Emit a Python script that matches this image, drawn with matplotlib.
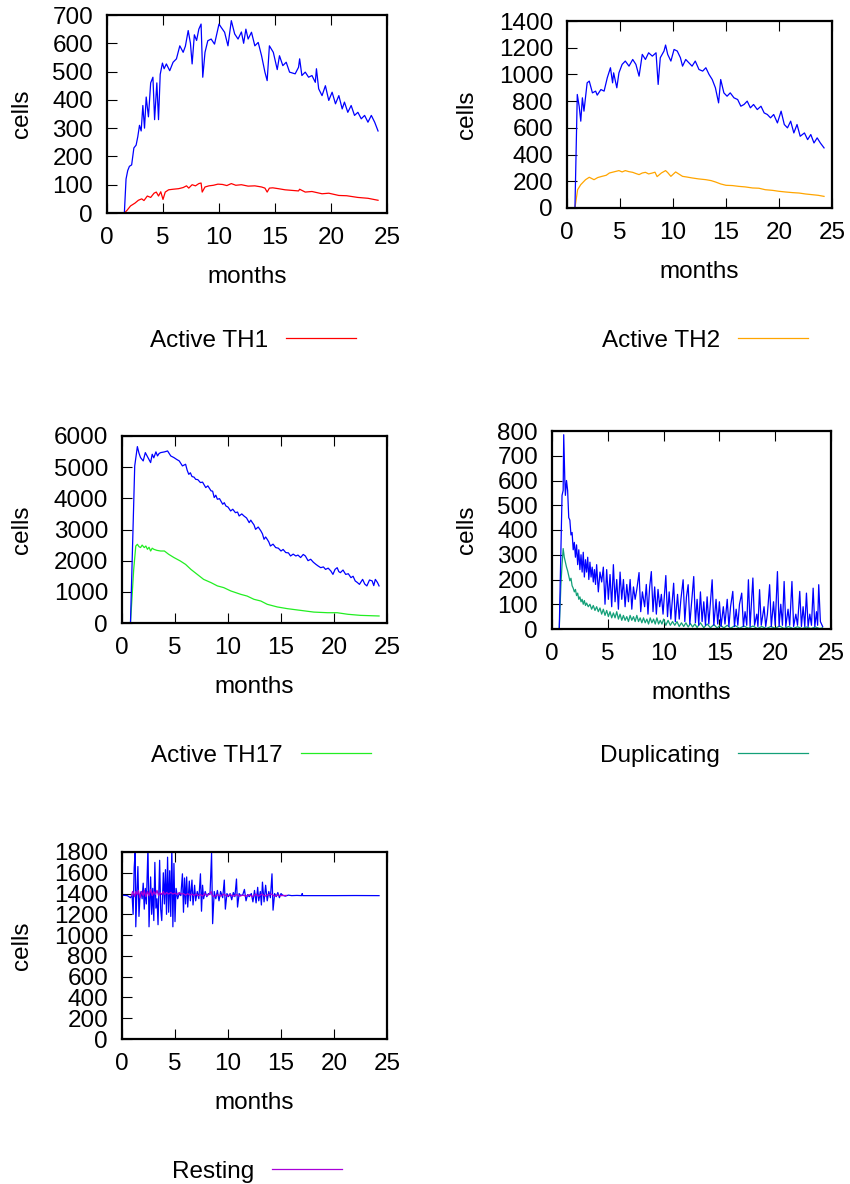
import numpy as np
import matplotlib
matplotlib.use("Agg")
import matplotlib.pyplot as plt
from matplotlib.lines import Line2D

FS = 17.5
plt.rcParams['font.family'] = ['Liberation Sans', 'DejaVu Sans']
plt.rcParams['font.size'] = FS

# (months, cells) samples of each trace

th1_blue = [(0, 0), (1.55, 0), (1.7, 120), (1.85, 150), (2.0, 165), (2.2, 170), (2.4, 230),
            (2.6, 240), (2.75, 270), (2.9, 310), (3.05, 290), (3.2, 380), (3.35, 300),
            (3.5, 410), (3.7, 340), (3.9, 460), (4.1, 480), (4.25, 330), (4.45, 460),
            (4.6, 330), (4.75, 490), (4.95, 530), (5.1, 510), (5.3, 527), (5.6, 503),
            (5.9, 533), (6.2, 545), (6.5, 591), (6.8, 568), (7.0, 590), (7.25, 645),
            (7.45, 600), (7.6, 527), (7.8, 630), (8.0, 610), (8.2, 650), (8.4, 668),
            (8.55, 480), (8.75, 568), (9.0, 609), (9.3, 615), (9.6, 597), (10.0, 668),
            (10.2, 656), (10.5, 639), (10.8, 591), (11.1, 680), (11.4, 633), (11.7, 615),
            (12.0, 640), (12.2, 600), (12.4, 650), (12.6, 615), (12.9, 639), (13.2, 591),
            (13.5, 603), (13.8, 556), (14.1, 498), (14.3, 468), (14.5, 591), (14.85, 568),
            (15.2, 507), (15.4, 556), (15.7, 521), (16.0, 533), (16.3, 498), (16.8, 492),
            (17.1, 515), (17.2, 545), (17.4, 486), (17.7, 498), (18.0, 480), (18.3, 486),
            (18.6, 462), (18.7, 510), (18.9, 439), (19.2, 415), (19.5, 450), (19.8, 398),
            (20.1, 427), (20.4, 386), (20.7, 415), (21.0, 368), (21.2, 392), (21.5, 356),
            (21.8, 380), (22.1, 345), (22.4, 356), (22.7, 333), (23.0, 345), (23.3, 321),
            (23.6, 345), (23.9, 321), (24.2, 290)]

th1_active = [(0, 0), (1.55, 0), (1.8, 10), (2.1, 25), (2.5, 35), (2.8, 45), (3.1, 50), (3.3, 44),
              (3.6, 60), (3.9, 55), (4.2, 70), (4.4, 74), (4.6, 60), (4.8, 75), (5.0, 48),
              (5.2, 74), (5.5, 82), (5.9, 84), (6.4, 86), (6.8, 90), (7.1, 96), (7.3, 88),
              (7.6, 100), (7.9, 96), (8.2, 104), (8.4, 106), (8.5, 74), (8.75, 92), (9.1, 96),
              (9.5, 98), (9.9, 102), (10.3, 101), (10.7, 97), (11.1, 104), (11.5, 98),
              (12.0, 100), (12.6, 95), (13.2, 96), (13.8, 92), (14.1, 88), (14.3, 74),
              (14.5, 88), (14.8, 89), (15.3, 86), (15.9, 82), (16.5, 80), (17.1, 78),
              (17.2, 84), (17.7, 74), (18.3, 76), (19.2, 68), (19.8, 70), (20.7, 62),
              (21.4, 61), (22.4, 55), (23.3, 52), (24.2, 45)]

th2_blue = [(0, 0), (0.75, 0), (0.97, 850), (1.15, 760), (1.3, 650), (1.45, 825), (1.6, 725),
            (1.9, 937), (2.1, 950), (2.4, 862), (2.7, 875), (2.85, 845), (3.2, 887), (3.5, 875),
            (3.8, 975), (4.1, 1050), (4.3, 937), (4.4, 1012), (4.7, 900), (4.9, 1012),
            (5.2, 1075), (5.5, 1100), (5.85, 1062), (6.2, 1112), (6.5, 1075), (6.8, 987),
            (7.1, 1150), (7.4, 1112), (7.7, 1162), (8.05, 1137), (8.4, 1162), (8.6, 925),
            (8.8, 1125), (9.15, 1175), (9.3, 1220), (9.5, 1150), (9.8, 1100), (10.1, 1187),
            (10.4, 1175), (10.7, 1125), (10.9, 1062), (11.2, 1112), (11.5, 1087), (11.8, 1062),
            (12.1, 1100), (12.45, 1037), (12.8, 1025), (13.1, 1050), (13.4, 1000), (13.7, 962),
            (14.0, 900), (14.3, 787), (14.5, 962), (14.8, 862), (15.1, 837), (15.4, 862),
            (15.75, 825), (16.1, 812), (16.4, 762), (16.7, 775), (17.0, 800), (17.3, 750),
            (17.6, 775), (17.95, 737), (18.3, 762), (18.6, 712), (18.9, 700), (19.2, 675),
            (19.5, 700), (19.85, 637), (20.2, 725), (20.5, 625), (20.8, 600), (21.1, 650),
            (21.4, 562), (21.7, 625), (22.0, 537), (22.4, 562), (22.7, 512), (23.0, 550),
            (23.3, 487), (23.6, 525), (23.9, 487), (24.25, 450)]

th2_active = [(0, 0), (0.75, 0), (1.0, 137), (1.3, 175), (1.75, 212), (2.1, 230), (2.55, 212),
              (2.9, 228), (3.3, 237), (3.7, 245), (4.0, 262), (4.4, 270), (4.9, 280), (5.2, 270),
              (5.5, 280), (5.85, 272), (6.2, 267), (6.5, 258), (6.8, 250), (7.1, 262), (7.4, 267),
              (7.7, 255), (8.05, 262), (8.3, 268), (8.5, 235), (8.9, 262), (9.3, 280), (9.5, 265),
              (9.8, 237), (10.25, 270), (10.6, 252), (10.9, 237), (11.3, 232), (11.8, 225),
              (12.4, 218), (13.1, 212), (13.6, 205), (14.0, 195), (14.5, 180), (15.0, 170),
              (15.6, 168), (16.2, 162), (16.8, 158), (17.5, 150), (18.1, 148), (18.7, 137),
              (19.4, 132), (20.0, 125), (20.6, 120), (21.3, 115), (21.9, 112), (22.5, 105),
              (23.1, 100), (23.7, 95), (24.25, 87)]

th17_blue = [(0, 0), (0.8, 0), (1.2, 5040), (1.45, 5660), (1.6, 5450), (1.75, 5307), (2.0, 5200),
             (2.2, 5467), (2.45, 5307), (2.7, 5147), (2.85, 5414), (3.0, 5300), (3.2, 5490),
             (3.35, 5360), (3.5, 5440), (3.65, 5467), (4.0, 5490), (4.3, 5520), (4.6, 5360),
             (4.9, 5307), (5.15, 5250), (5.4, 5200), (5.55, 5120), (5.7, 5040), (6.0, 5093),
             (6.15, 4900), (6.3, 4770), (6.45, 4820), (6.6, 4700), (6.8, 4680), (6.95, 4610),
             (7.15, 4600), (7.4, 4505), (7.6, 4520), (7.9, 4345), (8.1, 4400), (8.4, 4240),
             (8.55, 4230), (8.7, 4025), (8.85, 4100), (9.0, 3970), (9.2, 3990), (9.5, 3810),
             (9.65, 3860), (9.8, 3755), (10.0, 3720), (10.25, 3595), (10.45, 3650),
             (10.7, 3540), (10.9, 3560), (11.05, 3435), (11.3, 3500), (11.5, 3435),
             (11.75, 3370), (12.0, 3220), (12.15, 3300), (12.3, 3220), (12.45, 3150),
             (12.6, 3005), (12.85, 3080), (13.1, 2955), (13.25, 2860), (13.4, 2685),
             (13.55, 2760), (13.7, 2685), (13.85, 2600), (14.0, 2470), (14.25, 2530),
             (14.5, 2420), (14.75, 2400), (15.0, 2310), (15.2, 2360), (15.45, 2260),
             (15.7, 2250), (15.9, 2150), (16.15, 2210), (16.4, 2150), (16.6, 2180),
             (16.85, 2100), (17.1, 2200), (17.3, 2150), (17.55, 2000), (17.8, 2045),
             (18.05, 1950), (18.3, 1880), (18.5, 1830), (18.75, 1775), (19.0, 1800),
             (19.2, 1720), (19.45, 1760), (19.7, 1670), (19.9, 1560), (20.1, 1720),
             (20.3, 1775), (20.45, 1650), (20.6, 1615), (20.85, 1700), (21.1, 1560),
             (21.35, 1580), (21.6, 1455), (21.8, 1500), (22.0, 1350), (22.2, 1300),
             (22.4, 1240), (22.7, 1400), (22.9, 1250), (23.1, 1190), (23.35, 1380),
             (23.6, 1350), (23.75, 1200), (23.9, 1400), (24.1, 1300), (24.25, 1190)]

th17_active = [(0, 0), (0.8, 0), (1.1, 1700), (1.3, 2470), (1.45, 2525), (1.6, 2450), (1.75, 2420),
               (1.9, 2500), (2.1, 2420), (2.25, 2470), (2.4, 2365), (2.55, 2430), (2.7, 2310),
               (2.85, 2400), (3.0, 2365), (3.3, 2330), (3.65, 2310), (4.0, 2310), (4.4, 2205),
               (4.9, 2100), (5.5, 1990), (6.0, 1880), (6.5, 1720), (7.1, 1560), (7.7, 1400),
               (8.4, 1295), (9.0, 1190), (9.6, 1135), (10.25, 1030), (11.2, 920), (11.8, 865),
               (12.45, 760), (13.1, 705), (13.7, 600), (14.65, 515), (15.6, 460), (16.85, 405),
               (18.1, 350), (19.4, 330), (20.3, 330), (21.3, 280), (22.5, 245), (24.25, 225)]

dup_blue = [(0, 0), (0.65, 0), (0.8, 330), (0.9, 540), (1.0, 560), (1.05, 785), (1.15, 600),
            (1.2, 540), (1.3, 600), (1.4, 560), (1.5, 450), (1.6, 440), (1.7, 380), (1.8, 390),
            (1.9, 320), (2.0, 350), (2.1, 290), (2.2, 340), (2.3, 260), (2.4, 320), (2.5, 240),
            (2.6, 300), (2.7, 230), (2.8, 310), (2.9, 210), (3.0, 280), (3.1, 230), (3.2, 290),
            (3.3, 200), (3.4, 270), (3.5, 210), (3.6, 250), (3.7, 190), (3.8, 240), (3.9, 180),
            (4.0, 260), (4.15, 150), (4.3, 230), (4.45, 190), (4.6, 250), (4.75, 100),
            (4.9, 240), (5.05, 120), (5.2, 220), (5.35, 90), (5.5, 260), (5.65, 110),
            (5.8, 200), (5.95, 80), (6.1, 230), (6.25, 120), (6.4, 200), (6.55, 90),
            (6.7, 180), (6.85, 110), (7.0, 200), (7.15, 80), (7.3, 170), (7.45, 120),
            (7.6, 160), (7.8, 228), (7.95, 70), (8.1, 150), (8.3, 90), (8.45, 180), (8.6, 60),
            (8.75, 170), (8.9, 232), (9.05, 70), (9.2, 170), (9.35, 60), (9.5, 160),
            (9.65, 90), (9.8, 140), (9.95, 60), (10.2, 216), (10.35, 50), (10.5, 150),
            (10.65, 40), (10.9, 185), (11.05, 30), (11.25, 140), (11.4, 40), (11.55, 120),
            (11.75, 199), (11.9, 30), (12.05, 130), (12.2, 179), (12.35, 20), (12.7, 212),
            (12.85, 25), (13.0, 120), (13.15, 15), (13.3, 150), (13.45, 30), (13.6, 110),
            (13.75, 15), (13.9, 130), (14.05, 20), (14.35, 199), (14.5, 15), (14.7, 120),
            (14.85, 20), (15.0, 110), (15.15, 10), (15.35, 90), (15.5, 20), (15.7, 120),
            (15.85, 10), (16.0, 90), (16.2, 152), (16.35, 10), (16.5, 80), (16.65, 15),
            (16.8, 100), (17.0, 145), (17.15, 10), (17.3, 70), (17.45, 15), (17.6, 199),
            (17.75, 10), (18.0, 206), (18.15, 15), (18.35, 60), (18.45, 10), (18.6, 159),
            (18.75, 15), (19.0, 90), (19.15, 10), (19.3, 60), (19.5, 179), (19.65, 10),
            (19.85, 110), (20.0, 15), (20.2, 232), (20.35, 10), (20.5, 100), (20.65, 15),
            (20.8, 192), (20.95, 10), (21.15, 80), (21.3, 15), (21.5, 192), (21.65, 10),
            (21.85, 60), (22.0, 15), (22.2, 152), (22.35, 10), (22.5, 90), (22.65, 10),
            (22.8, 145), (22.95, 10), (23.1, 60), (23.25, 15), (23.4, 165), (23.55, 10),
            (23.7, 70), (23.8, 15), (23.9, 179), (24.05, 30), (24.25, 10)]

dup_active = [(0, 0), (0.65, 0), (0.8, 180), (0.9, 260), (1.0, 325), (1.1, 290), (1.2, 270),
              (1.3, 250), (1.4, 235), (1.5, 215), (1.6, 195), (1.7, 205), (1.8, 175), (1.9, 165),
              (2.0, 150), (2.1, 160), (2.2, 135), (2.3, 145), (2.4, 120), (2.5, 130), (2.6, 110),
              (2.7, 120), (2.8, 100), (2.9, 115), (3.0, 95), (3.1, 105), (3.25, 90), (3.4, 100),
              (3.55, 80), (3.7, 95), (3.85, 75), (4.0, 90), (4.15, 70), (4.3, 85), (4.45, 60),
              (4.6, 80), (4.75, 55), (4.9, 75), (5.05, 50), (5.2, 70), (5.35, 45), (5.5, 65),
              (5.65, 45), (5.8, 70), (5.95, 40), (6.1, 60), (6.25, 35), (6.4, 55), (6.55, 35),
              (6.7, 50), (6.85, 30), (7.0, 55), (7.15, 35), (7.3, 50), (7.45, 30), (7.6, 55),
              (7.75, 30), (7.9, 45), (8.05, 25), (8.2, 45), (8.35, 25), (8.5, 40), (8.65, 20),
              (8.8, 45), (8.95, 25), (9.1, 40), (9.25, 20), (9.4, 45), (9.55, 20), (9.7, 35),
              (9.85, 20), (10.0, 40), (10.2, 15), (10.4, 35), (10.6, 15), (10.8, 30), (11.0, 15),
              (11.2, 30), (11.4, 10), (11.6, 25), (11.8, 10), (12.0, 25), (12.2, 8), (12.4, 22),
              (12.6, 8), (12.8, 20), (13.0, 6), (13.3, 25), (13.6, 5), (13.9, 20), (14.2, 5),
              (14.5, 18), (14.8, 4), (15.1, 16), (15.4, 4), (15.7, 15), (16.0, 3), (16.4, 14),
              (16.8, 3), (17.2, 12), (17.6, 3), (18.0, 12), (18.4, 2), (18.8, 10), (19.2, 2),
              (19.6, 10), (20.0, 3), (20.4, 12), (20.8, 2), (21.2, 10), (21.6, 2), (22.0, 9),
              (22.4, 2), (22.8, 8), (23.2, 2), (23.6, 8), (24.0, 2), (24.25, 5)]

rest_blue = [(0, 1385), (0.5, 1380), (0.8, 1360), (0.95, 1385), (1.05, 1200), (1.15, 1650),
             (1.25, 1820), (1.3, 1080), (1.4, 1400), (1.5, 1660), (1.6, 1180), (1.7, 1380),
             (1.8, 1420), (1.9, 1350), (2.0, 1500), (2.1, 1250), (2.2, 1450), (2.3, 1300),
             (2.45, 1850), (2.55, 1080), (2.7, 1560), (2.8, 1200), (2.9, 1450), (3.0, 1140),
             (3.1, 1700), (3.2, 1260), (3.3, 1350), (3.4, 1100), (3.55, 1720), (3.65, 1250),
             (3.75, 1140), (3.9, 1600), (4.0, 1300), (4.1, 1630), (4.2, 1200), (4.3, 1750),
             (4.4, 1220), (4.5, 1620), (4.6, 1180), (4.7, 1850), (4.8, 1080), (4.9, 1690),
             (5.0, 1130), (5.1, 1450), (5.25, 1350), (5.4, 1400), (5.55, 1380), (5.7, 1590),
             (5.8, 1220), (5.9, 1550), (6.0, 1300), (6.1, 1560), (6.2, 1270), (6.35, 1520),
             (6.45, 1330), (6.6, 1530), (6.7, 1290), (6.85, 1480), (6.95, 1330), (7.1, 1420),
             (7.25, 1350), (7.4, 1590), (7.5, 1230), (7.6, 1480), (7.7, 1350), (7.85, 1420),
             (8.0, 1370), (8.15, 1400), (8.3, 1390), (8.45, 1790), (8.55, 1110), (8.7, 1420),
             (8.85, 1350), (9.0, 1430), (9.15, 1330), (9.3, 1420), (9.5, 1360), (9.65, 1530),
             (9.75, 1250), (9.9, 1400), (10.05, 1370), (10.2, 1400), (10.35, 1340),
             (10.5, 1410), (10.65, 1370), (10.8, 1540), (10.9, 1270), (11.05, 1400),
             (11.2, 1380), (11.4, 1390), (11.55, 1440), (11.7, 1330), (11.85, 1390),
             (12.0, 1370), (12.2, 1400), (12.35, 1320), (12.5, 1430), (12.65, 1310),
             (12.8, 1460), (12.9, 1330), (13.05, 1420), (13.15, 1290), (13.25, 1510),
             (13.4, 1320), (13.55, 1480), (13.7, 1330), (13.85, 1420), (14.0, 1360),
             (14.15, 1590), (14.25, 1240), (14.4, 1400), (14.55, 1370), (14.7, 1410),
             (14.85, 1360), (15.0, 1400), (15.15, 1385), (15.4, 1375), (15.7, 1385),
             (16.0, 1380), (16.5, 1382), (16.95, 1380), (17.0, 1400), (17.05, 1380),
             (18.0, 1380), (20.0, 1380), (22.0, 1381), (24.25, 1380)]

rest_active = [(0.9, 1380), (1.0, 1420), (1.1, 1400), (1.2, 1370), (1.3, 1420),
               (1.45, 1390), (1.55, 1430), (1.7, 1360), (1.85, 1420), (2.0, 1380), (2.1, 1430),
               (2.25, 1370), (2.4, 1420), (2.55, 1380), (2.7, 1440), (2.85, 1380), (3.0, 1420),
               (3.15, 1390), (3.3, 1430), (3.45, 1380), (3.6, 1410), (3.75, 1390), (3.9, 1420),
               (4.05, 1390), (4.2, 1410), (4.4, 1395), (4.6, 1410), (4.8, 1395), (5.0, 1405),
               (5.2, 1390), (5.4, 1410), (5.6, 1395), (5.8, 1400), (6.0, 1385), (6.2, 1400),
               (6.4, 1385), (6.6, 1395), (6.8, 1380), (7.0, 1395), (7.2, 1380), (7.4, 1390),
               (7.6, 1375), (7.8, 1400), (8.0, 1380), (8.2, 1390), (8.4, 1420), (8.5, 1385),
               (8.7, 1370), (9.0, 1390), (9.3, 1375), (9.6, 1395), (9.9, 1375), (10.2, 1390),
               (10.5, 1375), (10.8, 1390), (11.1, 1375), (11.4, 1385), (11.7, 1375),
               (12.0, 1390), (12.3, 1370), (12.6, 1395), (12.9, 1375), (13.2, 1395),
               (13.5, 1375), (13.8, 1390), (14.1, 1395), (14.4, 1375), (14.7, 1385),
               (15.0, 1380), (15.5, 1382)]

# one entry per panel: (blue trace, coloured trace, colour, key title, y max, y step)
panels = [
    (th1_blue, th1_active, '#ff0000', 'Active TH1', 700, 100),
    (th2_blue, th2_active, '#ffa500', 'Active TH2', 1400, 200),
    (th17_blue, th17_active, '#22ee22', 'Active TH17', 6000, 1000),
    (dup_blue, dup_active, '#13a078', 'Duplicating', 800, 100),
    (rest_blue, rest_active, '#a800d8', 'Resting', 1800, 200),
]

W, H = 850, 1184
# axes boxes in pixels (left, top, right, bottom)
boxes = [(107, 15, 387, 213), (567, 21, 832, 208),
         (122, 436, 387, 623), (552, 431, 831, 629),
         (122, 852, 387, 1039)]
ylabel_x = [22, 467, 22, 467, 22]
legend_pos = [(286, 338), (738, 338), (301, 753), (738, 753), (272, 1169)]

fig = plt.figure(figsize=(W / 100, H / 100), dpi=100)


def fx(px):
    return px / W


def fy(py):
    return 1 - py / H


for i, (blue, active, color, title, ymax, ystep) in enumerate(panels):
    x0, y0, x1, y1 = boxes[i]
    ax = fig.add_axes([fx(x0), fy(y1), fx(x1) - fx(x0), fy(y0) - fy(y1)])

    bt, bv = np.array(blue).T
    at, av = np.array(active).T
    if title == 'Resting':
        # resting count sits on top of the oscillating trace
        ax.plot(bt, bv, color='#0000ff', lw=0.9)
        ax.plot(at, av, color=color, lw=0.9)
    else:
        ax.plot(at, av, color=color, lw=0.9)
        ax.plot(bt, bv, color='#0000ff', lw=0.9)

    ax.set_xlim(0, 25)
    ax.set_ylim(0, ymax)
    ax.set_xticks(np.arange(0, 26, 5))
    ax.set_yticks(np.arange(0, ymax + 1, ystep))
    ax.tick_params(direction='in', length=7, width=0.8, pad=10,
                   top=True, right=False, labelsize=FS)
    for s in ax.spines.values():
        s.set_linewidth(1.6)

    # axis titles
    fig.text(fx((x0 + x1) / 2), fy(y1 + 70), 'months', ha='center', va='baseline')
    fig.text(fx(ylabel_x[i]), fy((y0 + y1) / 2), 'cells', rotation=90,
             ha='center', va='center')

    # key below each panel
    lx, ly = legend_pos[i]
    fig.text(fx(lx - 18), fy(ly + 9), title, ha='right', va='baseline')
    fig.add_artist(Line2D([fx(lx), fx(lx + 70)], [fy(ly), fy(ly)], color=color, lw=0.9))

fig.savefig('out.png', dpi=100)
